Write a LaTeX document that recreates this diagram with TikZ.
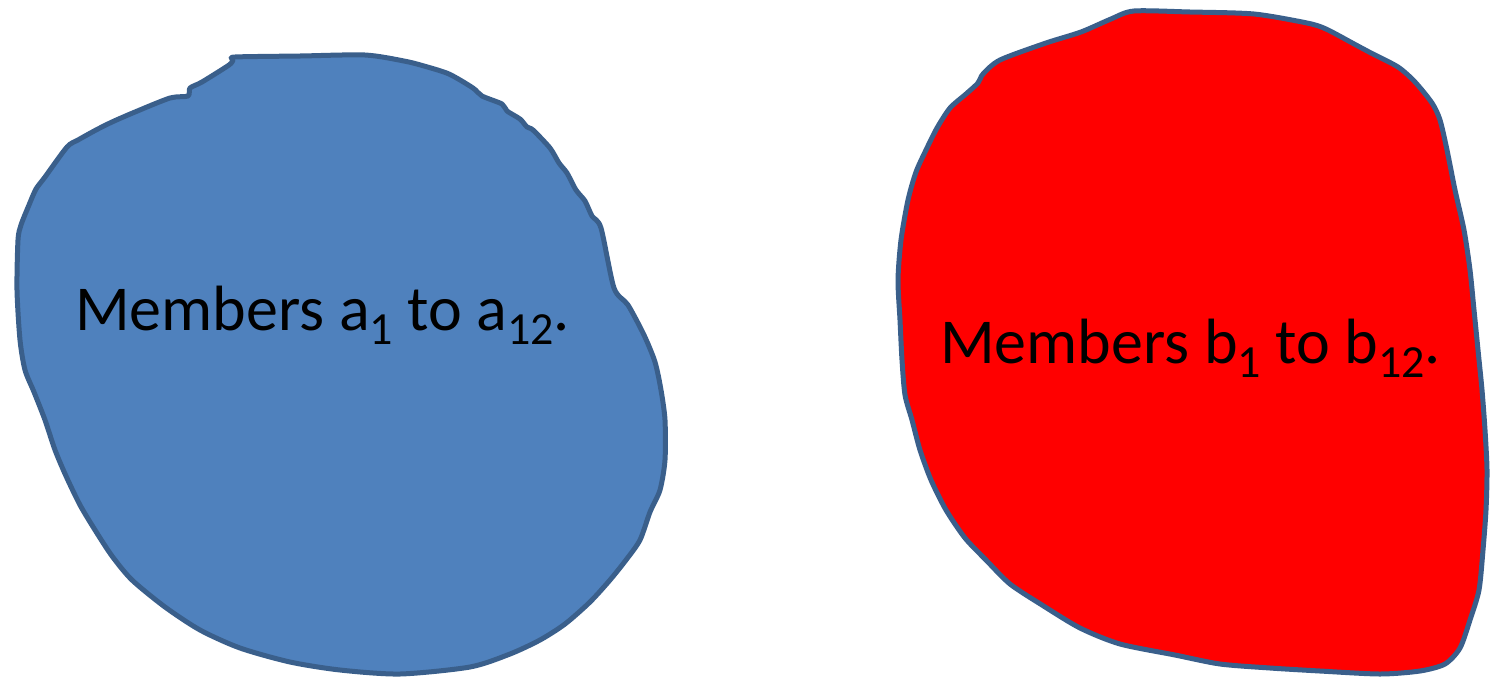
\documentclass[tikz,border=0pt]{standalone}
\usepackage{fontspec}
\setmainfont{Carlito}
\definecolor{blobblue}{HTML}{4F81BD}
\definecolor{bloboutline}{HTML}{3A5F8B}
\definecolor{blobred}{HTML}{FF0000}
\newcommand{\mysub}[1]{\raisebox{-0.22em}{\fontsize{46}{52}\selectfont #1}}
\begin{document}
\begin{tikzpicture}[x=1pt,y=-1pt,
  blob/.style={draw=bloboutline, line width=5pt, line join=round},
  label/.style={anchor=base west, inner sep=0pt, font=\fontsize{64}{76}\selectfont, text=black}]
\useasboundingbox (0,0) rectangle (1494,681);
% blue blob
\path[blob, fill=blobblue] plot[smooth cycle, tension=0.45] coordinates {
 (235,57) (300,56) (365,55) (404,61) (424,66) (449,74) (473,88) (482,96) (502,104)
 (507,111) (520,119) (527,127) (533,130) (550,148) (559,163) (567,173) (576,190)
 (585,201) (592,216) (601,228) (614,288) (628,305)
 (644,335) (655,362) (661,390) (665,420) (665,460) (660,490) (650,512) (640,540)
 (626,560) (610,580) (590,602) (565,624) (540,640) (510,654) (470,667) (400,674)
 (340,670) (290,662) (240,648) (200,630) (165,607) (132,580) (112,556) (95,530)
 (80,505) (66,476) (55,450) (45,420) (34,392) (25,370) (20,340) (17,290) (18,240)
 (21,225) (29,205) (36,189) (45,177) (67,147) (78,140) (96,130) (112,122)
 (135,112) (170,98) (188,96) (190,88) (202,82) (229,65) (233,60)};
% red blob
\path[blob, fill=blobred] plot[smooth cycle, tension=0.45] coordinates {
 (1134,11) (1190,12) (1254,14) (1307,23) (1326,29) (1356,45) (1371,53) (1398,67)
 (1415,82) (1432,103) (1440,120) (1447,150) (1455,190) (1464,230) (1470,270)
 (1474,310) (1478,350) (1482,390) (1485,430) (1487,470) (1486,510) (1483,550)
 (1479,590) (1470,620) (1460,648) (1445,664) (1420,671) (1380,674) (1320,671)
 (1270,668) (1220,664) (1175,655) (1120,644) (1080,628) (1042,605) (1010,584)
 (986,560) (965,538) (946,510) (931,480) (920,450) (912,420) (905,395) (902,360)
 (900,320) (898,280) (901,240) (908,200) (916,172) (926,150) (937,128) (950,108)
 (966,94) (978,83) (983,74) (1000,60) (1046,43) (1081,32) (1111,19)};
\node[label] (ta) at (75,330) {Members a\mysub{1} to a\mysub{12}.};
\node[label] (tb) at (940,363) {Members b\mysub{1} to b\mysub{12}.};
\end{tikzpicture}
\end{document}
